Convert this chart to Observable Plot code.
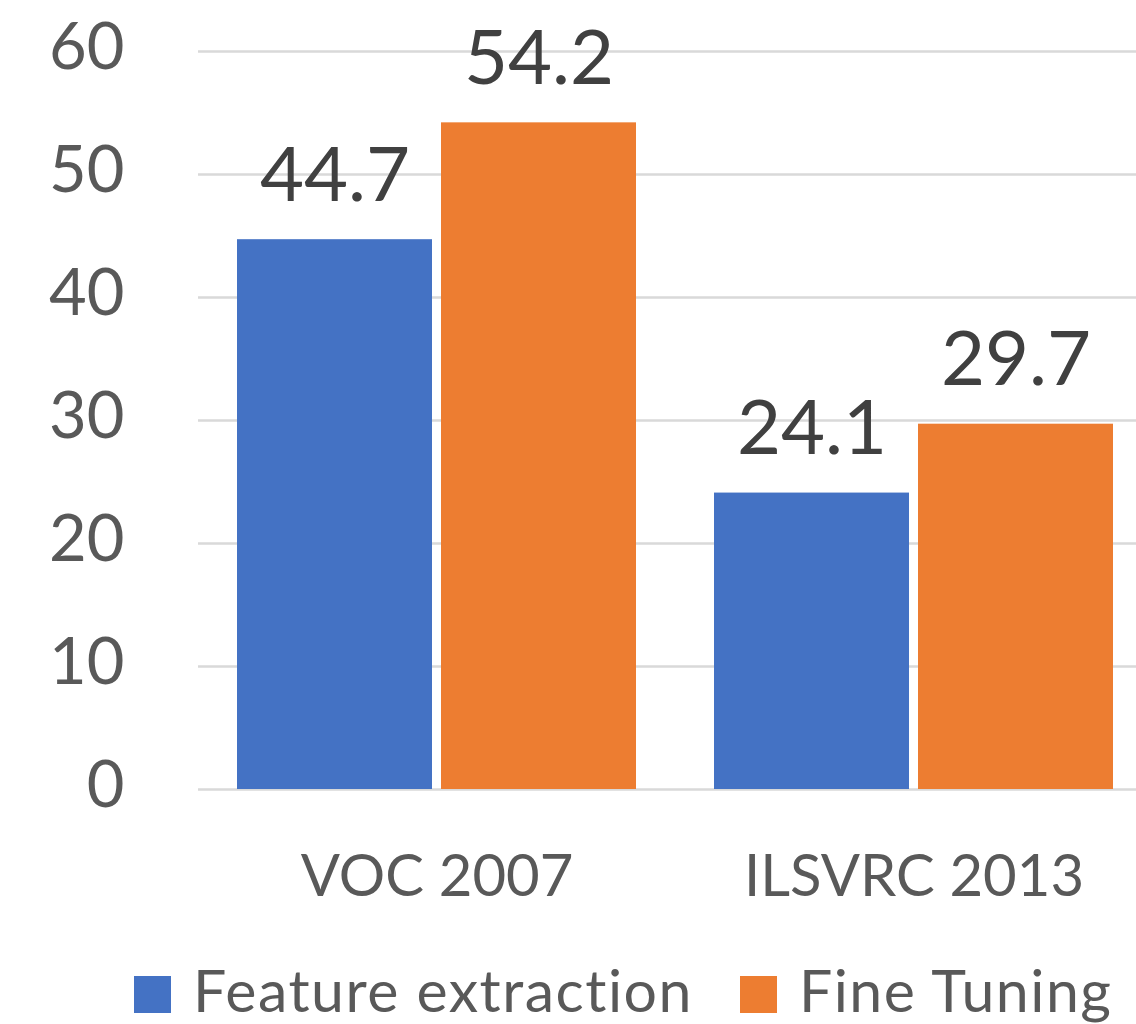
<!DOCTYPE html>
<html>
<head>
<meta charset="utf-8">
<script src="https://cdn.jsdelivr.net/npm/d3@7"></script>
<script src="https://cdn.jsdelivr.net/npm/@observablehq/plot@0.6"></script>
<style>
  html, body { margin: 0; padding: 0; background: #fff; overflow: hidden; }
  #wrap { width: 1136px; overflow: hidden; font-family: Lato, "Open Sans", sans-serif; }
  #chart svg { max-width: none !important; }
  #legend { display: flex; align-items: center; padding-left: 134px; height: 94px; box-sizing: border-box; padding-top: 34px; color: #595959; font-size: 59px; letter-spacing: 1.5px; white-space: nowrap; }
  .item { display: flex; align-items: center; height: 60px; }
  .item span { line-height: 59px; position: relative; top: -5px; }
  .sw { width: 37px; height: 37px; margin-right: 22px; }
</style>
</head>
<body>
<div id="wrap"><div id="chart"></div><div id="legend"></div></div>
<script>
const categories = ["VOC 2007", "ILSVRC 2013"];
const series = ["Feature extraction", "Fine Tuning"];
const featureExtraction = [44.7, 24.1];
const fineTuning = [54.2, 29.7];
const colors = ["#4472C4", "#ED7D31"];
const yTicks = [0, 10, 20, 30, 40, 50, 60];

const seriesValues = [featureExtraction, fineTuning];
const rows = [];
categories.forEach((c, i) => series.forEach((s, j) => rows.push({category: c, series: s, value: seriesValues[j][i]})));

const chart = Plot.plot({
  width: 1152,
  height: 930,
  marginLeft: 197,
  marginRight: 0,
  marginTop: 51,
  marginBottom: 141,
  style: {fontFamily: "Lato, 'Open Sans', sans-serif", background: "#fff", maxWidth: "none"},
  fx: {domain: categories, padding: 0, axis: null},
  x: {domain: series, paddingInner: 0.0441, paddingOuter: 0.191, axis: null},
  y: {domain: [0, 60], axis: null},
  color: {domain: series, range: colors},
  marks: [
    Plot.gridY(yTicks, {stroke: "#d9d9d9", strokeOpacity: 1, strokeWidth: 2.5}),
    Plot.barY(rows, {fx: "category", x: "series", y: "value", fill: "series"}),
    Plot.text(rows, {fx: "category", x: "series", y: "value", text: d => d.value.toFixed(1), lineAnchor: "bottom", dy: -39, fontSize: 76, fill: "#404040"}),
    Plot.axisY(yTicks, {anchor: "left", tickSize: 0, tickPadding: 74, fontSize: 65, color: "#595959", label: null, dy: -3, tickFormat: d => String(d)}),
    Plot.axisFx({anchor: "bottom", tickSize: 0, tickPadding: 65, fontSize: 58, color: "#595959", label: null})
  ]
});
document.getElementById("chart").appendChild(chart);

const legend = document.getElementById("legend");
series.forEach((s, j) => {
  const it = document.createElement("div");
  it.className = "item";
  if (j > 0) it.style.marginLeft = "47px";
  const sw = document.createElement("div");
  sw.className = "sw";
  sw.style.background = colors[j];
  const t = document.createElement("span");
  t.textContent = s;
  it.appendChild(sw); it.appendChild(t);
  legend.appendChild(it);
});
</script>
</body>
</html>
